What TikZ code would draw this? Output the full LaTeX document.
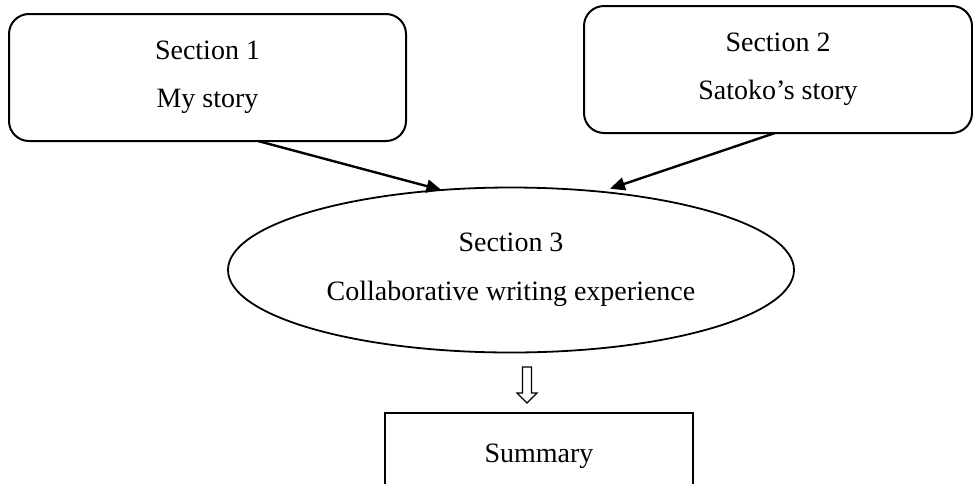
\documentclass[tikz,border=0pt]{standalone}
\usepackage{fontspec}
\setmainfont{Liberation Serif}
\usetikzlibrary{arrows.meta, shapes.geometric}
\tikzset{>={Triangle[length=7.5pt,width=6.5pt]}}
\tikzset{
	sectbox/.style={draw, line width=1pt, rounded corners=10pt, minimum width=198.5pt, minimum height=63.5pt, inner sep=0pt, outer sep=0pt, align=center, font=\fontsize{14}{24}\selectfont},
	sectoval/.style={draw, ellipse, line width=0.9pt, minimum width=283pt, minimum height=82.5pt, inner sep=0pt, outer sep=0pt, align=center, font=\fontsize{14}{24.5}\selectfont},
	sumbox/.style={draw, line width=1pt, minimum width=154pt, minimum height=43pt, inner sep=0pt, outer sep=0pt, font=\fontsize{14}{17}\selectfont},
	link/.style={->, line width=1.2pt}
}

\begin{document}
\begin{tikzpicture}[x=0.5pt,y=-0.5pt]
	\useasboundingbox (0,0) rectangle (973,483);
	\clip (0,0) rectangle (973,483);
	\node[sectbox] (sec1) at (207.5,77.5) {Section 1\\My story};
	\node[sectbox, minimum width=194pt] (sec2) at (778,69.5) {Section 2\\Satoko's story};
	\node[sectoval] (sec3) at (511,270) {Section 3\\Collaborative writing experience};
	\node[sumbox] (summ) at (539,456) {Summary};
	\draw[link] ([xshift=25.25pt]sec1.south) -- (sec3.131);
	\draw[link] ([xshift=-1.5pt]sec2.south) -- ([yshift=2pt]sec3.38);
	\coordinate (down) at (527,367);
	\draw[line width=0.6pt] (down) ++(-4.5,0) -- ++(9,0) -- ++(0,26) -- ++(5.5,0) -- ++(-10,10) -- ++(-10,-10) -- ++(5.5,0) -- cycle;
\end{tikzpicture}
\end{document}
